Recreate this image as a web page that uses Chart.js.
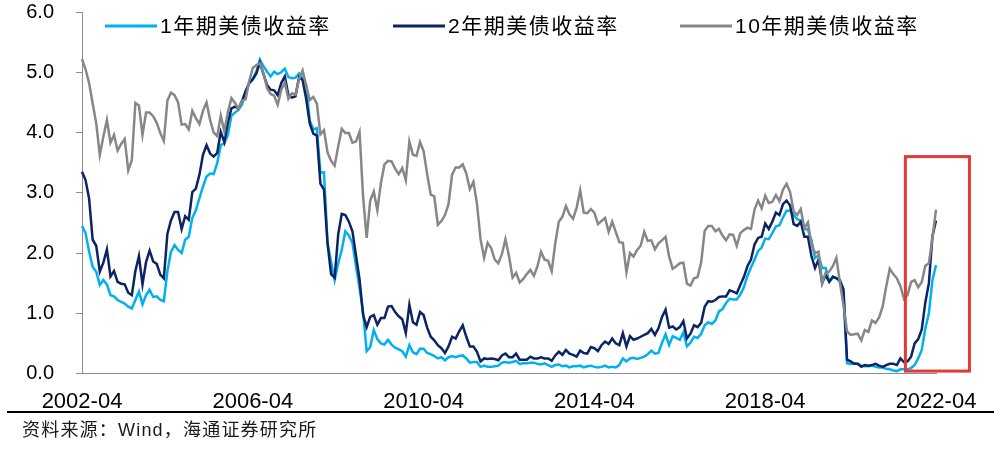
<!DOCTYPE html>
<html>
<head>
<meta charset="utf-8">
<script src="https://cdn.jsdelivr.net/npm/chart.js@4.4.1/dist/chart.umd.min.js"></script>
<style>
  html, body { margin: 0; padding: 0; background: #fff; }
  #wrap { width: 1003px; height: 460px; }
</style>
</head>
<body>
<div id="wrap"><canvas id="yieldChart" width="1003" height="460"></canvas></div>
<script>
// month-end yields, 2002-04 .. 2022-04
const months = []
for (let y = 2002, m = 4; y < 2022 || (y === 2022 && m <= 4); m++) {
  if (m > 12) { m = 1; y++ }
  if (y === 2022 && m > 4) break
  months.push(y + '-' + String(m).padStart(2, '0'))
}

const tickLabels = ['2002-04', '2006-04', '2010-04', '2014-04', '2018-04', '2022-04']

const yield1y = [
  2.45, 2.33, 2.02, 1.77, 1.69, 1.47, 1.55, 1.48, 1.30,
  1.28, 1.22, 1.19, 1.16, 1.11, 1.08, 1.22, 1.36, 1.15, 1.30, 1.39, 1.27,
  1.28, 1.22, 1.20, 1.70, 2.02, 2.13, 2.05, 2.00, 2.22, 2.27, 2.58, 2.71,
  2.91, 3.10, 3.27, 3.32, 3.31, 3.49, 3.79, 3.82, 3.96, 4.28, 4.33, 4.38,
  4.47, 4.68, 4.82, 4.90, 5.01, 5.21, 5.10, 5.01, 4.93, 5.01, 4.97, 5.00,
  5.06, 4.92, 4.90, 4.91, 4.98, 4.91, 4.79, 4.20, 4.05, 4.07, 3.33, 3.34,
  2.17, 1.85, 1.55, 1.83, 2.05, 2.36, 2.29, 2.17, 1.78, 1.42, 1.01, 0.37,
  0.44, 0.72, 0.57, 0.50, 0.48, 0.56, 0.48, 0.43, 0.40, 0.37, 0.28, 0.47,
  0.35, 0.32, 0.41, 0.41, 0.34, 0.32, 0.29, 0.25, 0.27, 0.22, 0.27, 0.29,
  0.27, 0.29, 0.30, 0.25, 0.18, 0.19, 0.19, 0.11, 0.13, 0.11, 0.11, 0.12,
  0.13, 0.18, 0.19, 0.18, 0.19, 0.21, 0.16, 0.17, 0.17, 0.18, 0.18, 0.16,
  0.15, 0.17, 0.14, 0.11, 0.14, 0.15, 0.12, 0.13, 0.10, 0.12, 0.12, 0.13,
  0.10, 0.12, 0.13, 0.11, 0.10, 0.11, 0.13, 0.10, 0.11, 0.10, 0.14, 0.25,
  0.20, 0.25, 0.26, 0.24, 0.26, 0.28, 0.32, 0.38, 0.33, 0.34, 0.51, 0.65,
  0.47, 0.62, 0.59, 0.56, 0.68, 0.45, 0.51, 0.61, 0.59, 0.66, 0.80, 0.85,
  0.82, 0.88, 1.03, 1.07, 1.17, 1.24, 1.23, 1.23, 1.31, 1.43, 1.62, 1.76,
  1.89, 2.03, 2.09, 2.24, 2.23, 2.33, 2.44, 2.46, 2.59, 2.70, 2.70, 2.63,
  2.56, 2.54, 2.40, 2.39, 2.21, 1.92, 1.96, 1.75, 1.75, 1.53, 1.59, 1.59,
  1.52, 1.30, 0.17, 0.16, 0.17, 0.16, 0.13, 0.12, 0.12, 0.13, 0.11, 0.10,
  0.10, 0.08, 0.07, 0.05, 0.04, 0.07, 0.07, 0.07, 0.09, 0.14, 0.25, 0.39,
  0.75, 1.00, 1.55, 1.80
]

const yield2y = [
  3.35, 3.21, 2.90, 2.22, 2.12, 1.69, 1.84, 2.06, 1.61,
  1.70, 1.52, 1.49, 1.48, 1.34, 1.30, 1.70, 1.95, 1.48, 1.85, 2.04, 1.86,
  1.82, 1.64, 1.58, 2.32, 2.54, 2.68, 2.68, 2.40, 2.61, 2.55, 3.01, 3.07,
  3.30, 3.63, 3.79, 3.65, 3.60, 3.66, 4.01, 3.84, 4.17, 4.40, 4.43, 4.40,
  4.53, 4.69, 4.82, 4.88, 4.98, 5.16, 4.97, 4.79, 4.71, 4.70, 4.62, 4.82,
  4.93, 4.62, 4.58, 4.60, 4.92, 4.87, 4.56, 4.15, 3.98, 3.95, 3.15, 3.05,
  2.16, 1.65, 1.59, 2.31, 2.65, 2.63, 2.52, 2.36, 1.96, 1.56, 0.97, 0.77,
  0.94, 0.97, 0.81, 0.92, 0.92, 1.11, 1.12, 1.02, 0.95, 0.90, 0.67, 1.14,
  0.85, 0.81, 1.02, 0.97, 0.76, 0.61, 0.55, 0.47, 0.42, 0.34, 0.45, 0.61,
  0.58, 0.70, 0.80, 0.61, 0.45, 0.45, 0.36, 0.20, 0.25, 0.24, 0.25, 0.24,
  0.22, 0.30, 0.33, 0.27, 0.27, 0.33, 0.23, 0.23, 0.23, 0.28, 0.25, 0.25,
  0.27, 0.25, 0.25, 0.21, 0.30, 0.36, 0.31, 0.39, 0.33, 0.31, 0.28, 0.38,
  0.34, 0.33, 0.44, 0.42, 0.37, 0.47, 0.53, 0.49, 0.58, 0.50, 0.47, 0.67,
  0.45, 0.62, 0.56, 0.58, 0.61, 0.64, 0.67, 0.74, 0.64, 0.75, 0.94, 1.06,
  0.76, 0.78, 0.73, 0.77, 0.87, 0.58, 0.66, 0.80, 0.77, 0.84, 1.11, 1.20,
  1.19, 1.22, 1.27, 1.28, 1.28, 1.38, 1.36, 1.33, 1.47, 1.60, 1.78, 1.89,
  2.14, 2.25, 2.27, 2.49, 2.40, 2.52, 2.67, 2.63, 2.81, 2.87, 2.79, 2.48,
  2.45, 2.52, 2.27, 2.27, 1.95, 1.75, 1.89, 1.50, 1.63, 1.52, 1.61, 1.58,
  1.55, 1.40, 0.23, 0.20, 0.16, 0.16, 0.11, 0.14, 0.13, 0.14, 0.16, 0.13,
  0.11, 0.14, 0.16, 0.16, 0.14, 0.25, 0.19, 0.20, 0.28, 0.50, 0.57, 0.73,
  1.18, 1.50, 2.28, 2.54
]

const yield10y = [
  5.22, 5.05, 4.82, 4.48, 4.15, 3.63, 3.93, 4.21, 3.83,
  3.96, 3.70, 3.81, 3.89, 3.37, 3.54, 4.49, 4.45, 3.96, 4.33, 4.33, 4.27,
  4.16, 3.99, 3.86, 4.53, 4.66, 4.62, 4.50, 4.13, 4.14, 4.05, 4.36, 4.24,
  4.14, 4.36, 4.50, 4.21, 4.00, 3.94, 4.28, 4.02, 4.34, 4.57, 4.49, 4.39,
  4.53, 4.55, 4.86, 5.07, 5.12, 5.15, 4.99, 4.74, 4.64, 4.61, 4.46, 4.71,
  4.83, 4.56, 4.65, 4.63, 4.89, 5.03, 4.78, 4.54, 4.59, 4.48, 3.97, 4.04,
  3.67, 3.53, 3.45, 3.77, 4.06, 3.99, 3.99, 3.83, 3.85, 4.01, 2.93, 2.25,
  2.87, 3.02, 2.71, 3.16, 3.47, 3.53, 3.52, 3.40, 3.31, 3.41, 3.21, 3.85,
  3.63, 3.61, 3.84, 3.69, 3.31, 2.97, 2.94, 2.47, 2.53, 2.63, 2.81, 3.30,
  3.42, 3.42, 3.47, 3.32, 3.06, 3.18, 2.82, 2.23, 1.92, 2.17, 2.08, 1.89,
  1.83, 1.98, 2.23, 1.95, 1.59, 1.67, 1.51, 1.57, 1.65, 1.72, 1.62, 1.78,
  2.02, 1.89, 1.87, 1.70, 2.16, 2.52, 2.60, 2.78, 2.64, 2.57, 2.75, 3.04,
  2.67, 2.66, 2.73, 2.67, 2.48, 2.53, 2.58, 2.35, 2.52, 2.35, 2.18, 2.17,
  1.68, 2.00, 1.94, 2.05, 2.12, 2.35, 2.20, 2.21, 2.06, 2.16, 2.21, 2.27,
  1.94, 1.74, 1.78, 1.83, 1.84, 1.49, 1.46, 1.58, 1.60, 1.84, 2.37, 2.45,
  2.45, 2.36, 2.40, 2.29, 2.21, 2.31, 2.30, 2.12, 2.33, 2.38, 2.42, 2.40,
  2.72, 2.87, 2.74, 2.95, 2.83, 2.85, 2.96, 2.86, 3.05, 3.15, 3.01, 2.69,
  2.63, 2.73, 2.41, 2.51, 2.14, 2.00, 2.02, 1.50, 1.68, 1.69, 1.78, 1.92,
  1.51, 1.13, 0.70, 0.64, 0.65, 0.66, 0.55, 0.72, 0.69, 0.88, 0.84, 0.93,
  1.11, 1.44, 1.74, 1.65, 1.58, 1.45, 1.24, 1.30, 1.52, 1.55, 1.43, 1.52,
  1.79, 1.83, 2.25, 2.72
]

const seriesNames = ['1年期美债收益率', '2年期美债收益率', '10年期美债收益率']
const colors = ['#00B0F0', '#0B2463', '#878787']
const sourceNote = '资料来源：Wind，海通证券研究所'

const latin = "'Liberation Sans', Arial, 'Noto Sans CJK SC', sans-serif"

// legend, footer rule, source note and the red highlight box
const extras = {
  id: 'extras',
  afterDraw(chart) {
    const ctx = chart.ctx
    const { x, y } = chart.scales
    ctx.save()

    // legend sits inside the plot, above the lines
    const legendX = [105, 393, 680]
    ctx.font = '21px ' + latin
    ctx.letterSpacing = '1.5px'
    ctx.textBaseline = 'middle'
    ctx.fillStyle = '#000'
    chart.data.datasets.forEach((ds, i) => {
      ctx.strokeStyle = ds.borderColor
      ctx.lineWidth = 3
      ctx.beginPath()
      ctx.moveTo(legendX[i], 26)
      ctx.lineTo(legendX[i] + 52, 26)
      ctx.stroke()
      ctx.fillText(ds.label, legendX[i] + 55, 27)
    })

    // red box round the last months
    const monthPx = (x.getPixelForValue(240) - x.getPixelForValue(0)) / 240
    const bx0 = x.getPixelForValue(231.4)
    const bx1 = bx0 + monthPx * 18
    const by0 = y.getPixelForValue(3.6)
    const by1 = y.getPixelForValue(0.04)
    ctx.strokeStyle = '#E53935'
    ctx.lineWidth = 3
    ctx.strokeRect(bx0, by0, bx1 - bx0, by1 - by0)

    // footer
    ctx.strokeStyle = '#000'
    ctx.lineWidth = 2
    ctx.beginPath()
    ctx.moveTo(7, 412)
    ctx.lineTo(994, 412)
    ctx.stroke()

    ctx.font = '18px ' + latin
    ctx.letterSpacing = '1.2px'
    ctx.fillStyle = '#1a1a1a'
    ctx.fillText(sourceNote, 22, 431)
    ctx.restore()
  }
}

new Chart(document.getElementById('yieldChart'), {
  type: 'line',
  data: {
    labels: months,
    datasets: [
      { label: seriesNames[0], data: yield1y, borderColor: colors[0], order: 2 },
      { label: seriesNames[1], data: yield2y, borderColor: colors[1], order: 1 },
      { label: seriesNames[2], data: yield10y, borderColor: colors[2], order: 0 }
    ]
  },
  options: {
    responsive: false,
    animation: false,
    devicePixelRatio: 1,
    layout: { padding: { left: 0, right: 67, top: 0, bottom: 45.5 } },
    elements: {
      line: { borderWidth: 2.5, tension: 0, fill: false },
      point: { radius: 0 }
    },
    plugins: {
      legend: { display: false },
      tooltip: { enabled: false }
    },
    scales: {
      x: {
        grid: { display: false, drawTicks: false },
        border: { display: true, color: '#8c8c8c', width: 1 },
        afterBuildTicks(scale) {
          scale.ticks = scale.ticks.filter(t => tickLabels.includes(months[t.value]))
        },
        afterFit(scale) { scale.height = 41 },
        ticks: {
          autoSkip: false,
          maxRotation: 0,
          minRotation: 0,
          padding: 15,
          color: '#000',
          font: { family: latin, size: 22 }
        }
      },
      y: {
        min: 0,
        max: 6,
        afterFit(scale) {
          scale.width = 82
          scale.paddingTop = 12
          scale.paddingBottom = 12
        },
        grid: { drawOnChartArea: false, drawTicks: true, tickLength: 6, color: '#8c8c8c' },
        border: { display: true, color: '#8c8c8c', width: 1 },
        ticks: {
          stepSize: 1,
          padding: 22,
          color: '#000',
          font: { family: latin, size: 20 },
          callback: v => v.toFixed(1)
        }
      }
    }
  },
  plugins: [extras]
})
</script>
</body>
</html>
